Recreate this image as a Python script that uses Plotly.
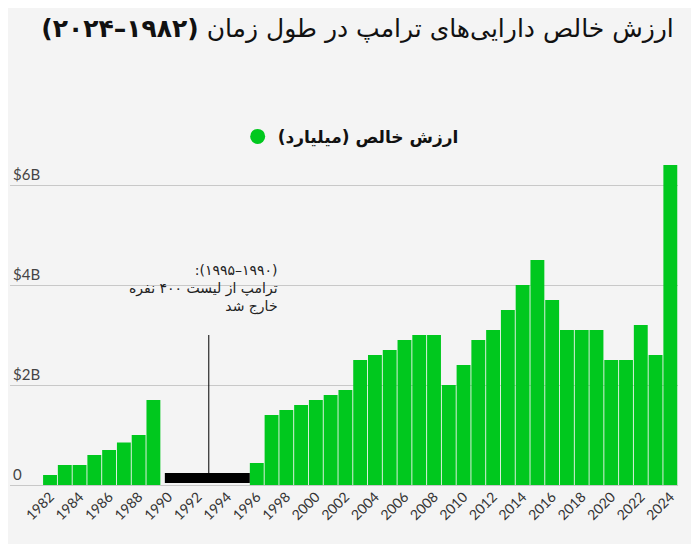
# Trump net worth over time (bar chart, Persian labels)

import plotly.graph_objects as go

years = list(range(1982, 2025))
# net worth in billions of dollars; None = years off the Forbes 400 list
net_worth = [0.2, 0.4, 0.4, 0.6, 0.7, 0.85, 1.0, 1.7,
             None, None, None, None, None, None,
             0.44, 1.4, 1.5, 1.6, 1.7, 1.8, 1.9, 2.5, 2.6, 2.7, 2.9, 3.0, 3.0,
             2.0, 2.4, 2.9, 3.1, 3.5, 4.0, 4.5, 3.7, 3.1, 3.1, 3.1, 2.5, 2.5,
             3.2, 2.6, 6.4]

gap_years = [1990, 1995]
gap_low, gap_high = 0.04, 0.24

y_ticks = [0, 2, 4, 6]
y_labels = ["0", "$2B", "$4B", "$6B"]
x_ticks = list(range(1982, 2025, 2))

title_text = "ارزش خالص دارایی‌های ترامپ در طول زمان <b>(۱۹۸۲–۲۰۲۴)</b>"
legend_name = "ارزش خالص (میلیارد)"
note_lines = ["(۱۹۹۰–۱۹۹۵):", "ترامپ از لیست ۴۰۰ نفره", "خارج شد"]

GREEN = "#00c81e"
BG = "#f4f4f4"
RLE, PDF = "\u202b", "\u202c"

def rtl(s):
    return RLE + s + PDF

fig = go.Figure()

fig.add_trace(go.Bar(x=years, y=net_worth, marker_color=GREEN,
                     marker_line_width=0, showlegend=False))

# black block for the missing years
gap_mid = (gap_years[0] + gap_years[1]) / 2 + 0.15
fig.add_trace(go.Bar(x=[gap_mid], y=[gap_high - gap_low], base=[gap_low],
                     width=[gap_years[1] - gap_years[0] + 0.75],
                     marker_color="black", marker_line_width=0, showlegend=False))

# legend entry with round dot
fig.add_trace(go.Scatter(x=[None], y=[None], mode="markers",
                         name=rtl("<b>" + legend_name + "</b>"),
                         marker=dict(color=GREEN, size=15)))

fig.add_shape(type="line", x0=gap_mid + 0.1, x1=gap_mid + 0.1, y0=gap_high, y1=3.0,
              line=dict(color="black", width=1))

fig.add_annotation(x=1997.6, y=4.5, xanchor="right", yanchor="top", align="right",
                   showarrow=False, text="<br>".join(rtl(s) for s in note_lines),
                   font=dict(size=14, color="#222", family="DejaVu Sans"))

# page body adds an 8px offset, margins compensate for it
fig.update_layout(
    title=dict(text=rtl(title_text), x=0.5, xanchor="center", y=0.962, yanchor="middle",
               font=dict(size=25, color="#111", family="DejaVu Sans")),
    width=699, height=544,
    paper_bgcolor=BG, plot_bgcolor=BG,
    margin=dict(l=2, r=29, t=147, b=67),
    barmode="overlay",
    bargap=0.06,
    legend=dict(orientation="h", x=0.51, xanchor="center", y=1.055, yanchor="middle",
                font=dict(size=17, color="#111", family="DejaVu Sans"),
                bgcolor="rgba(0,0,0,0)"),
    font=dict(family="Lato", color="#333"),
)

fig.update_xaxes(range=[1979.29, 2024.52], tickvals=x_ticks,
                 ticktext=[str(v) for v in x_ticks], tickangle=-45,
                 tickfont=dict(size=14, color="#333"), showgrid=False,
                 zeroline=False, showline=False, ticks="")

fig.update_yaxes(range=[0, 6.6], tickvals=y_ticks, ticktext=y_labels,
                 ticklabelposition="inside top", tickfont=dict(size=15, color="#444"),
                 showgrid=True, gridcolor="#c8c8c8", gridwidth=1,
                 zeroline=True, zerolinecolor="#c8c8c8", zerolinewidth=1)

fig.write_html("out.html")
